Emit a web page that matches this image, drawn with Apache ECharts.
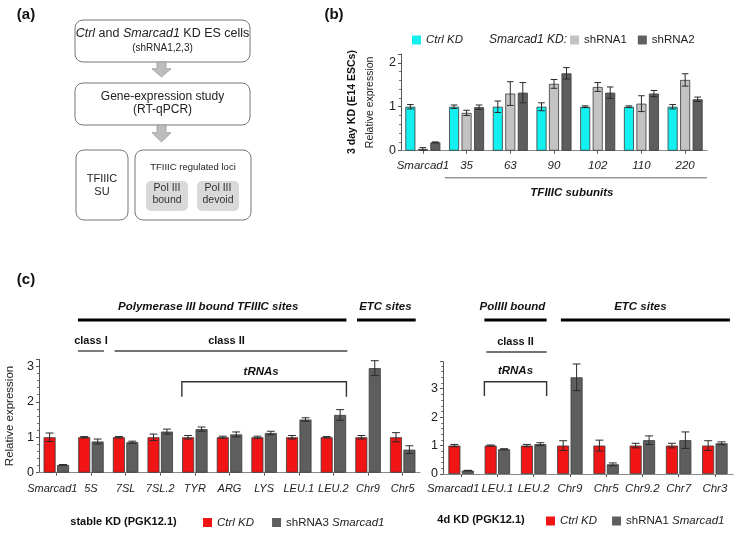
<!DOCTYPE html>
<html>
<head>
<meta charset="utf-8">
<script src="https://cdn.jsdelivr.net/npm/echarts@6/dist/echarts.min.js"></script>
<style>html,body{margin:0;padding:0;background:#fff;}#c{width:738px;height:534px;}</style>
</head>
<body>
<div id="c"></div>
<script>
// ---------- DATA ----------
const bCats = ['Smarcad1','35','63','90','102','110','220'];
const bCtrl = [1,1,1,1,1,1,1];
const bCtrlErr = [0.05,0.04,0.13,0.09,0.02,0.02,0.05];
const bSh1 = [0.04,0.86,1.30,1.52,1.45,1.07,1.61];
const bSh1Err = [0.03,0.06,0.27,0.10,0.10,0.18,0.14];
const bSh2 = [0.19,0.99,1.32,1.76,1.32,1.30,1.17];
const bSh2Err = [0.01,0.05,0.23,0.13,0.13,0.07,0.05];

const cLCats = ['Smarcad1','5S','7SL','7SL.2','TYR','ARG','LYS','LEU.1','LEU.2','Chr9','Chr5'];
const cLCtrl = [1,1,1,1,1,1,1,1,1,1,1];
const cLCtrlErr = [0.12,0.02,0.02,0.09,0.05,0.03,0.03,0.05,0.02,0.05,0.13];
const cLSh = [0.22,0.88,0.86,1.16,1.23,1.08,1.12,1.50,1.63,2.95,0.65];
const cLShErr = [0.01,0.07,0.03,0.07,0.06,0.07,0.05,0.05,0.15,0.21,0.11];

const cRCats = ['Smarcad1','LEU.1','LEU.2','Chr9','Chr5','Chr9.2','Chr7','Chr3'];
const cRCtrl = [1,1,1,1,1,1,1,1];
const cRCtrlErr = [0.04,0.02,0.04,0.17,0.19,0.08,0.08,0.17];
const cRSh = [0.12,0.87,1.05,3.40,0.34,1.19,1.19,1.08];
const cRShErr = [0.01,0.02,0.05,0.47,0.05,0.15,0.29,0.05];

// ---------- STYLE ----------
const FONT = '"Liberation Sans", Arial, sans-serif';
const CYAN = '#12f0f0', LGRAY = '#c3c3c3', DGRAY = '#5e5e5e', RED = '#f01414';

const chart = echarts.init(document.getElementById('c'), null, {renderer:'canvas', width:738, height:534});

function errSeries(xi, vals, errs, idx, n, bw, gap) {
  return {
    type:'custom', xAxisIndex:xi, yAxisIndex:xi, z:10, silent:true,
    data: vals.map((v,i)=>[i, v, errs[i]]),
    encode:{x:0, y:1},
    renderItem(params, api){
      const ci = api.value(0), v = api.value(1), e = api.value(2);
      const c = api.coord([ci, v]);
      const x = c[0] + (idx - (n-1)/2) * bw * (1 + gap);
      const top = api.coord([ci, v + e])[1];
      const bot = api.coord([ci, Math.max(0, v - e)])[1];
      const cap = bw * 0.33;
      const st = {stroke:'#2a2a2a', lineWidth:1};
      return {type:'group', children:[
        {type:'line', shape:{x1:x,y1:top,x2:x,y2:bot}, style:st},
        {type:'line', shape:{x1:x-cap,y1:top,x2:x+cap,y2:top}, style:st},
        {type:'line', shape:{x1:x-cap,y1:bot,x2:x+cap,y2:bot}, style:st}
      ]};
    }
  };
}
function bar(name, xi, data, color, bw, gap) {
  return {type:'bar', name, xAxisIndex:xi, yAxisIndex:xi, data, barWidth:bw, barGap:(gap*100)+'%',
    itemStyle:{color, borderColor:'#3a3a3a', borderWidth:0.8}, silent:true, animation:false};
}
function yAxis(gi, max, extra) {
  return Object.assign({
    type:'value', gridIndex:gi, min:0, max, interval:1,
    axisLine:{show:true, lineStyle:{color:'#555', width:1}},
    axisTick:{show:true, length:3, lineStyle:{color:'#555'}},
    minorTick:{show:true, splitNumber:5, length:2, lineStyle:{color:'#777'}},
    splitLine:{show:false},
    axisLabel:{fontSize:12.5, color:'#222', fontFamily:FONT, margin:5, showMaxLabel:false}
  }, extra||{});
}
function xAxis(gi, cats, fs, margin, firstShift) {
  return {
    type:'category', gridIndex:gi, data:cats,
    axisLine:{show:true, lineStyle:{color:'#8a8a8a', width:1.2}},
    axisTick:{show:true, alignWithLabel:true, length:3, lineStyle:{color:'#555'}},
    axisLabel:{interval:0, fontSize:fs, fontStyle:'italic', color:'#222', fontFamily:FONT, margin,
      formatter:(v, i)=> i === 0 ? '{s|' + v + '}' : v,
      rich:{s:{fontSize:fs, fontStyle:'italic', color:'#222', fontFamily:FONT, padding:[0, firstShift, 0, 0]}}}
  };
}

const legendMap = {
  'Ctrl KD':'{i|Ctrl KD}', 'shRNA1':'{n|shRNA1}', 'shRNA2':'{n|shRNA2}',
  'Ctrl KD (stable)':'{i|Ctrl KD}', 'shRNA3 Smarcad1':'{n|shRNA3 }{i|Smarcad1}',
  'Ctrl KD (4d)':'{i|Ctrl KD}', 'shRNA1 Smarcad1':'{n|shRNA1 }{i|Smarcad1}'
};
function legend(names, left, top, gap) {
  return {data:names, left, top, padding:0, orient:'horizontal', itemGap:gap, itemWidth:9, itemHeight:9,
    icon:'rect', selectedMode:false,
    itemStyle:{borderWidth:0},
    formatter:n=>legendMap[n],
    textStyle:{fontFamily:FONT, fontSize:11.5, color:'#222', padding:[0,0,0,0],
      rich:{i:{fontStyle:'italic', fontSize:11.5, fontFamily:FONT, color:'#222'},
            n:{fontSize:11.5, fontFamily:FONT, color:'#222'}}}};
}

const option = {
  backgroundColor:'#fff',
  animation:false,
  textStyle:{fontFamily:FONT},
  grid:[
    {left:401, top:54, width:306, height:96.7, outerBoundsMode:'none', containLabel:false},
    {left:39, top:359.3, width:381, height:113.4, outerBoundsMode:'none', containLabel:false},
    {left:443, top:361.7, width:290, height:112.3, outerBoundsMode:'none', containLabel:false}
  ],
  xAxis:[ xAxis(0, bCats, 11.5, 9, 0), xAxis(1, cLCats, 11, 11, 8), xAxis(2, cRCats, 11.5, 9, 16) ],
  yAxis:[
    yAxis(0, 2.2, {name:'Relative expression', nameLocation:'middle', nameGap:25,
      nameTextStyle:{fontSize:10.5, color:'#222', fontFamily:FONT}}),
    yAxis(1, 3.2, {name:'Relative expression', nameLocation:'middle', nameGap:20,
      nameTextStyle:{fontSize:11.5, color:'#222', fontFamily:FONT}}),
    yAxis(2, 3.95)
  ],
  legend:[
    legend(['Ctrl KD'], 412, 34, 10),
    legend(['shRNA1','shRNA2'], 570, 34, 11),
    legend(['Ctrl KD (stable)','shRNA3 Smarcad1'], 203, 516.5, 18),
    legend(['Ctrl KD (4d)','shRNA1 Smarcad1'], 546, 515, 15)
  ],
  series:[
    bar('Ctrl KD', 0, bCtrl, CYAN, 10, 0.25),
    bar('shRNA1', 0, bSh1, LGRAY, 10, 0.25),
    bar('shRNA2', 0, bSh2, DGRAY, 10, 0.25),
    errSeries(0, bCtrl, bCtrlErr, 0, 3, 10, 0.25),
    errSeries(0, bSh1, bSh1Err, 1, 3, 10, 0.25),
    errSeries(0, bSh2, bSh2Err, 2, 3, 10, 0.25),
    bar('Ctrl KD (stable)', 1, cLCtrl, RED, 12, 0.12),
    bar('shRNA3 Smarcad1', 1, cLSh, DGRAY, 12, 0.12),
    errSeries(1, cLCtrl, cLCtrlErr, 0, 2, 12, 0.12),
    errSeries(1, cLSh, cLShErr, 1, 2, 12, 0.12),
    bar('Ctrl KD (4d)', 2, cRCtrl, RED, 12, 0.12),
    bar('shRNA1 Smarcad1', 2, cRSh, DGRAY, 12, 0.12),
    errSeries(2, cRCtrl, cRCtrlErr, 0, 2, 12, 0.12),
    errSeries(2, cRSh, cRShErr, 1, 2, 12, 0.12)
  ]
};
chart.setOption(option);

// ---------- ANNOTATIONS (positions derived from axes) ----------
const G = [];
function txt(x, y, text, o) {
  G.push({type:'text', x, y, silent:true, style:Object.assign({text, fill:'#111', font:'12px '+FONT,
    textAlign:'center', textVerticalAlign:'middle'}, o||{})});
}
function ln(x1,y1,x2,y2,w,c) {
  G.push({type:'line', silent:true, shape:{x1,y1,x2,y2}, style:{stroke:c||'#000', lineWidth:w||1}});
}
function cx(xi, i) { return chart.convertToPixel({xAxisIndex:xi}, i); }
const HALF = 13;
function span(xi, a, b) { return [cx(xi, a) - HALF, cx(xi, b) + HALF]; }
function bracket(xi, a, b, y, y2) {
  const [x1, x2] = span(xi, a, b);
  G.push({type:'polyline', silent:true, shape:{points:[[x1,y2],[x1,y],[x2,y],[x2,y2]]},
    style:{stroke:'#333', lineWidth:1.4, fill:null}});
  return (x1+x2)/2;
}
const BI = 'italic bold 11.5px '+FONT, B = 'bold 11px '+FONT;

// panel labels
txt(26, 15, '(a)', {font:'bold 15px '+FONT});
txt(334, 15, '(b)', {font:'bold 15px '+FONT});
txt(26, 280, '(c)', {font:'bold 15px '+FONT});

// panel b
G.push({type:'text', x:352, y:102, rotation:Math.PI/2, silent:true,
  style:{text:'3 day KD (E14 ESCs)', font:'bold 10.5px '+FONT, fill:'#111', textAlign:'center', textVerticalAlign:'middle'}});
txt(528, 40, 'Smarcad1 KD:', {font:'italic 12px '+FONT, fill:'#222'});
{
  const x1 = cx(0, 1) - (cx(0,1)-cx(0,0))/2;
  const x2 = 707;
  ln(x1, 177.7, x2, 177.7, 1.4, '#999');
  txt((x1+x2)/2 - 4, 192.7, 'TFIIIC subunits', {font:BI});
}

// panel c left
{
  let [a, b] = span(1, 1, 8); ln(a, 320, b, 320, 3); txt((a+b)/2 - 4, 307, 'Polymerase III bound TFIIIC sites', {font:BI});
  [a, b] = span(1, 9, 10); ln(a+2, 320, b, 320, 3); txt((a+b)/2, 307, 'ETC sites', {font:BI});
  [a, b] = span(1, 1, 1); ln(a, 351, b, 351, 1.4, '#444'); txt((a+b)/2, 341, 'class I', {font:B});
  [a, b] = span(1, 2, 8); ln(a+2, 351, b+1, 351, 1.4, '#444'); txt((a+b)/2 - 3, 341, 'class II', {font:B});
  const m = bracket(1, 4, 8, 381.7, 396.7); txt(m - 3, 371.5, 'tRNAs', {font:BI});
  txt(123.5, 521.5, 'stable KD (PGK12.1)', {font:'bold 11px '+FONT});
}
// panel c right
{
  let [a, b] = span(2, 1, 2); ln(a, 320, b, 320, 3); txt((a+b)/2 - 3, 307, 'PolIII bound', {font:BI});
  [a, b] = span(2, 3, 7); ln(a+4, 320, b+2, 320, 3); txt((a+b)/2 - 2, 307, 'ETC sites', {font:BI});
  [a, b] = span(2, 1, 2); ln(a+2, 352, b, 352, 1.4, '#444'); txt((a+b)/2, 342, 'class II', {font:B});
  const m = bracket(2, 1, 2, 381.7, 396); txt(m, 371, 'tRNAs', {font:BI});
  txt(481, 520, '4d KD (PGK12.1)', {font:'bold 11px '+FONT});
}

// ---------- FLOWCHART (a) ----------
function box(x, y, w, h, fill, stroke, r) {
  G.push({type:'rect', silent:true, shape:{x, y, width:w, height:h, r:r}, style:{fill, stroke, lineWidth:stroke?1:0}});
}
function arrow(cxp, y0, y1) {
  const sw = 4.5, hw = 9.5, hy = y0 + (y1 - y0) * 0.45;
  G.push({type:'polygon', silent:true, shape:{points:[
    [cxp-sw,y0],[cxp+sw,y0],[cxp+sw,hy],[cxp+hw,hy],[cxp,y1],[cxp-hw,hy],[cxp-sw,hy]]},
    style:{fill:'#bdbdbd', stroke:'#9a9a9a', lineWidth:0.8}});
}
box(75, 20, 175, 42, '#fff', '#777', 8);
G.push({type:'text', x:162.5, y:33.5, silent:true, style:{
  text:'{i|Ctrl} and {i|Smarcad1} KD ES cells', textAlign:'center', textVerticalAlign:'middle',
  font:'12.5px '+FONT, fill:'#222',
  rich:{i:{fontStyle:'italic', fontSize:12.5, fontFamily:FONT, fill:'#222'}}}});
txt(162.5, 48, '(shRNA1,2,3)', {font:'10px '+FONT, fill:'#222'});
arrow(161.5, 62, 77);
box(75, 83, 175, 42, '#fff', '#777', 8);
txt(162.5, 97, 'Gene-expression study', {font:'12px '+FONT, fill:'#222'});
txt(162.5, 110, '(RT-qPCR)', {font:'12px '+FONT, fill:'#222'});
arrow(161.5, 125, 142);
box(76, 150, 52, 70, '#fff', '#777', 8);
txt(102, 179, 'TFIIIC', {font:'11px '+FONT, fill:'#222'});
txt(102, 192, 'SU', {font:'11px '+FONT, fill:'#222'});
box(135, 150, 116, 70, '#fff', '#777', 8);
txt(193, 167, 'TFIIIC regulated loci', {font:'9.5px '+FONT, fill:'#222'});
box(146, 181, 42, 30, '#d9d9d9', null, 5);
box(197, 181, 42, 30, '#d9d9d9', null, 5);
txt(167, 188, 'Pol III', {font:'10.5px '+FONT, fill:'#333'});
txt(167, 200.5, 'bound', {font:'10.5px '+FONT, fill:'#333'});
txt(218, 188, 'Pol III', {font:'10.5px '+FONT, fill:'#333'});
txt(218, 200.5, 'devoid', {font:'10.5px '+FONT, fill:'#333'});

chart.setOption({graphic:{elements:G}});
</script>
</body>
</html>
